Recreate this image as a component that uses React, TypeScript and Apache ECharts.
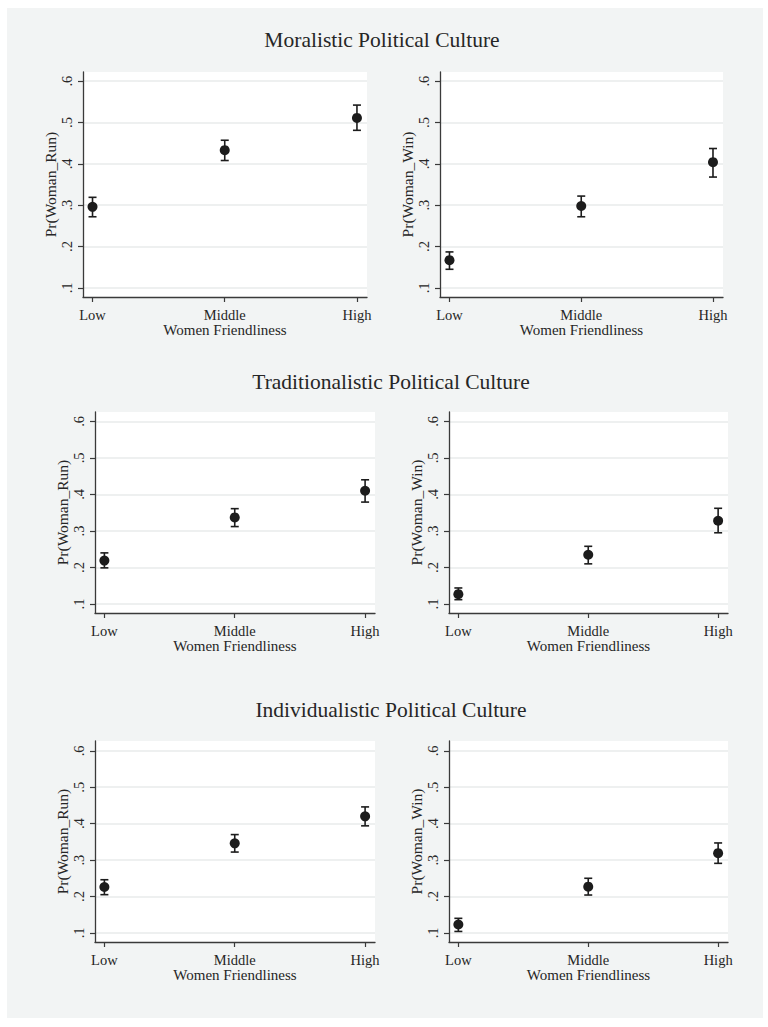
import React, { useEffect, useRef } from "react";
import * as echarts from "echarts";

const categories = ["Low", "Middle", "High"];
const xPositions = [1, 2, 3];
const yTickValues = [0.1, 0.2, 0.3, 0.4, 0.5, 0.6];
const yTickLabels = [".1", ".2", ".3", ".4", ".5", ".6"];

const panelTitles = [
  "Moralistic Political Culture",
  "Traditionalistic Political Culture",
  "Individualistic Political Culture",
];
const xAxisName = "Women Friendliness";
const yNameRun = "Pr(Woman_Run)";
const yNameWin = "Pr(Woman_Win)";

// Moralistic
const runMoral = [0.296, 0.433, 0.511];
const runMoralLo = [0.272, 0.408, 0.481];
const runMoralHi = [0.319, 0.457, 0.542];
const winMoral = [0.167, 0.298, 0.404];
const winMoralLo = [0.145, 0.272, 0.368];
const winMoralHi = [0.187, 0.322, 0.437];
// Traditionalistic
const runTrad = [0.219, 0.337, 0.41];
const runTradLo = [0.199, 0.312, 0.379];
const runTradHi = [0.24, 0.361, 0.44];
const winTrad = [0.127, 0.235, 0.328];
const winTradLo = [0.112, 0.21, 0.295];
const winTradHi = [0.144, 0.258, 0.362];
// Individualistic
const runIndiv = [0.226, 0.346, 0.42];
const runIndivLo = [0.205, 0.322, 0.394];
const runIndivHi = [0.246, 0.37, 0.446];
const winIndiv = [0.123, 0.227, 0.319];
const winIndivLo = [0.104, 0.204, 0.291];
const winIndivHi = [0.14, 0.25, 0.347];

const FONT = "'Liberation Serif', 'Times New Roman', serif";
const TEXT = "#262626";
const AXIS = "#3a3a3a";
const DOT = "#1c1c1c";

type Panel = {
  grid: { left: number; top: number; width: number; height: number };
  yRange: [number, number];
  yName: string;
  mid: number[];
  lo: number[];
  hi: number[];
};

const panels: Panel[] = [
  { grid: { left: 83, top: 72, width: 284, height: 225 }, yRange: [0.078, 0.622], yName: yNameRun, mid: runMoral, lo: runMoralLo, hi: runMoralHi },
  { grid: { left: 440, top: 72, width: 283, height: 225 }, yRange: [0.078, 0.622], yName: yNameWin, mid: winMoral, lo: winMoralLo, hi: winMoralHi },
  { grid: { left: 95, top: 412, width: 280, height: 201 }, yRange: [0.0755, 0.6255], yName: yNameRun, mid: runTrad, lo: runTradLo, hi: runTradHi },
  { grid: { left: 449, top: 412, width: 279, height: 201 }, yRange: [0.0755, 0.6255], yName: yNameWin, mid: winTrad, lo: winTradLo, hi: winTradHi },
  { grid: { left: 95, top: 741, width: 280, height: 201 }, yRange: [0.075, 0.627], yName: yNameRun, mid: runIndiv, lo: runIndivLo, hi: runIndivHi },
  { grid: { left: 449, top: 741, width: 279, height: 201 }, yRange: [0.075, 0.627], yName: yNameWin, mid: winIndiv, lo: winIndivLo, hi: winIndivHi },
];

const titlePos = [
  { x: 382, y: 40 },
  { x: 391, y: 381.7 },
  { x: 391, y: 710.4 },
];

export default function App() {
  const ref = useRef<HTMLDivElement>(null);

  useEffect(() => {
    document.body.style.margin = "0";
    if (!ref.current) return;
    const chart = echarts.init(ref.current, undefined, { renderer: "svg" });

    const grids: any[] = [];
    const xAxes: any[] = [];
    const yAxes: any[] = [];
    const series: any[] = [];

    panels.forEach((p, i) => {
      grids.push({
        ...p.grid,
        show: true,
        backgroundColor: "#ffffff",
        borderWidth: 0,
        containLabel: false,
      });
      xAxes.push({
        type: "value",
        gridIndex: i,
        min: 0.928,
        max: 3.076,
        name: xAxisName,
        nameLocation: "middle",
        nameGap: 24,
        nameTextStyle: { fontFamily: FONT, fontSize: 15, color: TEXT },
        axisLine: { show: true, onZero: false, lineStyle: { color: AXIS, width: 1.3 } },
        axisTick: { show: true, length: 5, lineStyle: { color: AXIS, width: 1.2 }, customValues: xPositions },
        axisLabel: {
          show: true,
          customValues: xPositions,
          margin: 10,
          fontFamily: FONT,
          fontSize: 14.5,
          color: TEXT,
          formatter: (v: number) => categories[Math.round(v) - 1] ?? "",
        },
        splitLine: { show: false },
      });
      yAxes.push({
        type: "value",
        gridIndex: i,
        min: p.yRange[0],
        max: p.yRange[1],
        name: p.yName,
        nameLocation: "middle",
        nameGap: 25,
        nameTextStyle: { fontFamily: FONT, fontSize: 15.5, color: TEXT },
        axisLine: { show: true, onZero: false, lineStyle: { color: AXIS, width: 1.3 } },
        axisTick: { show: true, length: 5, lineStyle: { color: AXIS, width: 1.2 }, customValues: yTickValues },
        axisLabel: {
          show: true,
          customValues: yTickValues,
          rotate: 90,
          margin: 9,
          fontFamily: FONT,
          fontSize: 14.5,
          color: TEXT,
          formatter: (v: number) => yTickLabels[Math.round(v * 10) - 1] ?? "",
        },
        splitLine: { show: true, lineStyle: { color: "#e9ebeb", width: 1.6 } },
      });
      series.push({
        type: "custom",
        xAxisIndex: i,
        yAxisIndex: i,
        data: xPositions.map((x, k) => [x, p.lo[k], p.hi[k]]),
        encode: { x: 0, y: [1, 2] },
        z: 3,
        renderItem: (params: any, api: any) => {
          const x = api.value(0);
          const a = api.coord([x, api.value(1)]);
          const b = api.coord([x, api.value(2)]);
          const hw = 4;
          const style = { stroke: DOT, lineWidth: 1.6, fill: "none" };
          return {
            type: "group",
            children: [
              { type: "line", shape: { x1: a[0], y1: a[1], x2: b[0], y2: b[1] }, style },
              { type: "line", shape: { x1: a[0] - hw, y1: a[1], x2: a[0] + hw, y2: a[1] }, style },
              { type: "line", shape: { x1: b[0] - hw, y1: b[1], x2: b[0] + hw, y2: b[1] }, style },
            ],
          };
        },
      });
      series.push({
        type: "scatter",
        xAxisIndex: i,
        yAxisIndex: i,
        data: xPositions.map((x, k) => [x, p.mid[k]]),
        symbol: "circle",
        symbolSize: 10,
        itemStyle: { color: DOT, opacity: 1 },
        z: 4,
      });
    });

    const graphics: any[] = [
      {
        type: "rect",
        shape: { x: 7, y: 8, width: 756, height: 1010 },
        style: { fill: "#f2f4f4" },
        z: -10,
        silent: true,
      },
      ...panelTitles.map((t, i) => ({
        type: "text",
        x: titlePos[i].x,
        y: titlePos[i].y,
        z: 10,
        style: {
          text: t,
          font: `21.5px ${FONT}`,
          fontFamily: FONT,
          fontSize: 21.5,
          fill: TEXT,
          align: "center",
          verticalAlign: "middle",
          textAlign: "center",
          textVerticalAlign: "middle",
        },
      })),
    ];

    chart.setOption({
      animation: false,
      backgroundColor: "#ffffff",
      grid: grids,
      xAxis: xAxes,
      yAxis: yAxes,
      series,
      graphic: { elements: graphics },
    });

    return () => chart.dispose();
  }, []);

  return (
    <div
      ref={ref}
      style={{ position: "absolute", left: 0, top: 0, width: 768, height: 1027 }}
    />
  );
}
